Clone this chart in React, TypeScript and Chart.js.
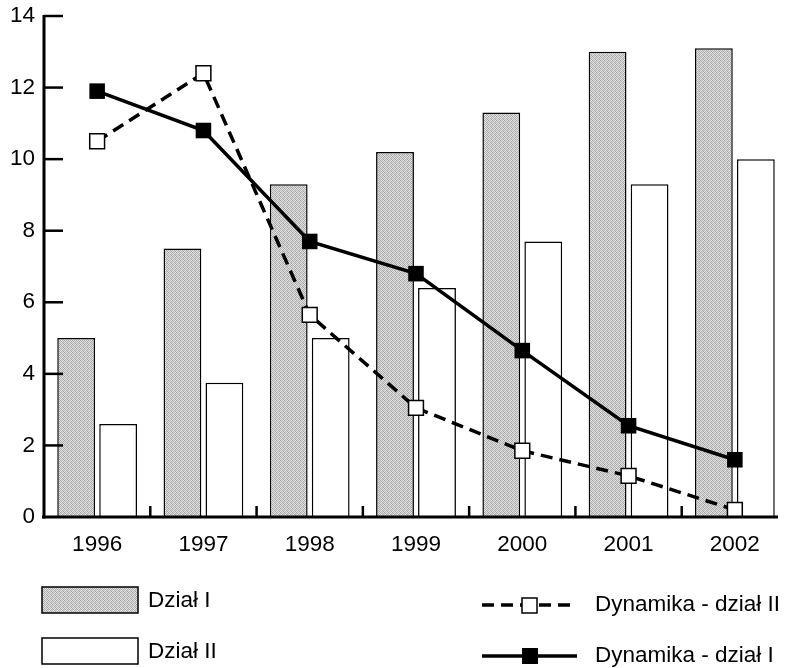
import React, { useEffect, useRef } from "react";
import { Chart, registerables } from "chart.js";

Chart.register(...registerables);

const categories = ["1996", "1997", "1998", "1999", "2000", "2001", "2002"];
const dzialI = [5.0, 7.5, 9.3, 10.2, 11.3, 13.0, 13.1];
const dzialII = [2.6, 3.75, 5.0, 6.4, 7.7, 9.3, 10.0];
const dynamikaI = [11.9, 10.8, 7.7, 6.8, 4.65, 2.55, 1.6];
const dynamikaII = [10.5, 12.4, 5.65, 3.05, 1.85, 1.15, 0.2];
const yTicks = [0, 2, 4, 6, 8, 10, 12, 14];

const FONT = "'Liberation Sans', Arial, sans-serif";

function makePattern(ctx: CanvasRenderingContext2D): CanvasPattern | string {
  const c = document.createElement("canvas");
  c.width = 4;
  c.height = 4;
  const p = c.getContext("2d");
  if (!p) return "#c2c2c2";
  const shades = [
    ["#a4a4a4", "#dedede", "#b8b8b8", "#e4e4e4"],
    ["#d8d8d8", "#b0b0b0", "#e2e2e2", "#acacac"],
    ["#bcbcbc", "#e6e6e6", "#a8a8a8", "#d6d6d6"],
    ["#e0e0e0", "#b4b4b4", "#dadada", "#a6a6a6"],
  ];
  for (let y = 0; y < 4; y++)
    for (let x = 0; x < 4; x++) {
      p.fillStyle = shades[y][x];
      p.fillRect(x, y, 1, 1);
    }
  return ctx.createPattern(c, "repeat") || "#c2c2c2";
}

const axesPlugin = {
  id: "customAxes",
  afterDatasetsDraw(chart: any) {
    const { ctx, chartArea, scales } = chart;
    const x = scales.x;
    const y = scales.y;
    ctx.save();
    ctx.strokeStyle = "#000";
    ctx.lineCap = "butt";
    ctx.lineWidth = 2.5;
    yTicks.forEach((v) => {
      if (v === 0) return;
      const py = y.getPixelForValue(v);
      ctx.beginPath();
      ctx.moveTo(chartArea.left, py);
      ctx.lineTo(chartArea.left + 19, py);
      ctx.stroke();
    });
    for (let i = 0; i < categories.length - 1; i++) {
      const px = (x.getPixelForValue(i) + x.getPixelForValue(i + 1)) / 2;
      ctx.beginPath();
      ctx.moveTo(px, chartArea.bottom);
      ctx.lineTo(px, chartArea.bottom - 11);
      ctx.stroke();
    }
    ctx.lineWidth = 3;
    ctx.beginPath();
    ctx.moveTo(chartArea.left, y.getPixelForValue(14) - 1);
    ctx.lineTo(chartArea.left, chartArea.bottom + 1.5);
    ctx.stroke();
    ctx.beginPath();
    ctx.moveTo(chartArea.left - 2, chartArea.bottom);
    ctx.lineTo(chartArea.right - 10, chartArea.bottom);
    ctx.stroke();
    ctx.restore();
  },
};

const legendPlugin = {
  id: "customLegend",
  afterDraw(chart: any) {
    const { ctx } = chart;
    const pattern = (chart as any)._grayPattern;
    ctx.save();
    ctx.font = `22.5px ${FONT}`;
    ctx.fillStyle = "#000";
    ctx.textBaseline = "middle";
    ctx.textAlign = "left";
    ctx.fillStyle = pattern;
    ctx.fillRect(42, 587, 96, 26);
    ctx.strokeStyle = "#000";
    ctx.lineWidth = 1.5;
    ctx.strokeRect(42, 587, 96, 26);
    ctx.fillStyle = "#000";
    ctx.fillText("Dział I", 148, 601);
    ctx.fillStyle = "#fff";
    ctx.fillRect(42, 638, 96, 26);
    ctx.strokeRect(42, 638, 96, 26);
    ctx.fillStyle = "#000";
    ctx.fillText("Dział II", 148, 652);
    ctx.lineWidth = 3.5;
    ctx.setLineDash([12, 7]);
    ctx.beginPath();
    ctx.moveTo(482, 605);
    ctx.lineTo(577, 605);
    ctx.stroke();
    ctx.setLineDash([]);
    ctx.fillStyle = "#fff";
    ctx.fillRect(522, 598, 15, 15);
    ctx.lineWidth = 1.5;
    ctx.strokeRect(522, 598, 15, 15);
    ctx.fillStyle = "#000";
    ctx.fillText("Dynamika - dział II", 595, 605);
    ctx.lineWidth = 3.5;
    ctx.beginPath();
    ctx.moveTo(482, 656);
    ctx.lineTo(577, 656);
    ctx.stroke();
    ctx.fillRect(522, 648, 16, 16);
    ctx.fillText("Dynamika - dział I", 595, 656);
    ctx.restore();
  },
};

export default function App() {
  const ref = useRef<HTMLCanvasElement | null>(null);
  useEffect(() => {
    const canvas = ref.current;
    if (!canvas) return;
    const ctx = canvas.getContext("2d");
    if (!ctx) return;
    const pattern = makePattern(ctx);
    const chart = new Chart(ctx, {
      type: "bar",
      data: {
        labels: categories,
        datasets: [
          {
            type: "line",
            label: "Dynamika - dział I",
            data: dynamikaI,
            borderColor: "#000",
            borderWidth: 3.5,
            backgroundColor: "#000",
            pointStyle: "rect",
            pointRadius: 11,
            pointBackgroundColor: "#000",
            pointBorderColor: "#000",
            pointBorderWidth: 0,
            tension: 0,
            order: 0,
          } as any,
          {
            type: "line",
            label: "Dynamika - dział II",
            data: dynamikaII,
            borderColor: "#000",
            borderWidth: 3.5,
            borderDash: [12, 7],
            backgroundColor: "#fff",
            pointStyle: "rect",
            pointRadius: 10.5,
            pointBackgroundColor: "#fff",
            pointBorderColor: "#000",
            pointBorderWidth: 1.5,
            tension: 0,
            order: 0,
            clip: false,
          } as any,
          {
            type: "bar",
            label: "Dział I",
            data: dzialI,
            backgroundColor: pattern as any,
            borderColor: "#000",
            borderWidth: 1.5,
            categoryPercentage: 0.79,
            barPercentage: 0.9,
            order: 1,
          },
          {
            type: "bar",
            label: "Dział II",
            data: dzialII,
            backgroundColor: "#fff",
            borderColor: "#000",
            borderWidth: 1.5,
            categoryPercentage: 0.79,
            barPercentage: 0.9,
            order: 1,
          },
        ],
      },
      options: {
        animation: false,
        responsive: false,
        maintainAspectRatio: false,
        layout: { autoPadding: false, padding: { top: 16, bottom: 101, left: 0, right: 0 } },
        plugins: {
          legend: { display: false },
          tooltip: { enabled: false },
          title: { display: false },
        },
        scales: {
          x: {
            grid: { display: false, drawTicks: false },
            border: { display: false },
            ticks: {
              color: "#000",
              font: { family: FONT, size: 22.5 },
              padding: 14,
              maxRotation: 0,
            },
            afterFit: (s: any) => {
              s.height = 50;
              s.paddingLeft = 0;
              s.paddingRight = 0;
            },
          },
          y: {
            min: 0,
            max: 14,
            grid: { display: false, drawTicks: false },
            border: { display: false },
            ticks: {
              stepSize: 2,
              color: "#000",
              font: { family: FONT, size: 22.5 },
              padding: 9,
            },
            afterFit: (s: any) => {
              s.width = 44;
              s.paddingTop = 0;
              s.paddingBottom = 0;
            },
          },
        },
      },
      plugins: [axesPlugin, legendPlugin],
    });
    (chart as any)._grayPattern = pattern;
    chart.draw();
    return () => chart.destroy();
  }, []);
  return (
    <div style={{ position: "fixed", left: 0, top: 0, width: 788, height: 668, background: "#fff" }}>
      <canvas ref={ref} width={788} height={668} style={{ width: 788, height: 668, display: "block" }} />
    </div>
  );
}
